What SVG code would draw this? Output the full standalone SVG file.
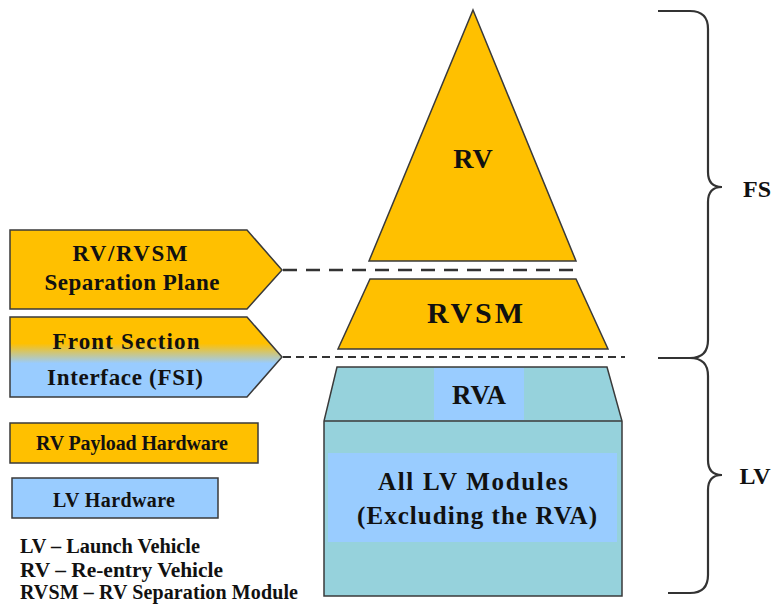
<svg xmlns="http://www.w3.org/2000/svg" width="776" height="607" viewBox="0 0 776 607">
<style>
.o{fill:#FFC000;stroke:#3a3a3a;stroke-width:1.5}
.b{fill:#99CCFF;stroke:#3a3a3a;stroke-width:1.5}
.t{font-family:"Liberation Serif","Times New Roman",serif;font-weight:bold;fill:#111;text-anchor:middle}
.l{font-family:"Liberation Serif","Times New Roman",serif;font-weight:bold;fill:#111;font-size:20px}
.br{fill:none;stroke:#333;stroke-width:2.2}
</style>
<defs>
<linearGradient id="fsi" x1="0" y1="0" x2="0" y2="1">
<stop offset="0.33" stop-color="#FFC000"/>
<stop offset="0.58" stop-color="#99CCFF"/>
</linearGradient>
</defs>
<rect width="776" height="607" fill="#fff"/>
<g id="connectors">
<line x1="283" y1="270" x2="576" y2="270" stroke="#333" stroke-width="2.5" stroke-dasharray="14 9"/>
<line x1="283" y1="357" x2="625" y2="357" stroke="#333" stroke-width="2" stroke-dasharray="8 5"/>
</g>
<g id="rv">
<polygon class="o" points="473,10 576,261 369,261"/>
<text class="t" x="473" y="168" font-size="28">RV</text>
</g>
<g id="rvsm">
<polygon class="o" points="370,279 576,279 608,349 338,349"/>
<text class="t" x="475" y="323" font-size="30" textLength="96" lengthAdjust="spacing">RVSM</text>
</g>
<g id="lv">
<polygon points="337,367 607,367 622,421 622,596 324,596 324,421" fill="#96D2DC" stroke="#3a3a3a" stroke-width="1.5"/>
<rect x="434" y="368" width="90" height="52" fill="#99CCFF"/>
<rect x="328" y="453" width="289" height="89" fill="#99CCFF"/>
<line x1="324" y1="421" x2="622" y2="421" stroke="#3a3a3a" stroke-width="1.5"/>
<text class="t" x="479" y="404" font-size="27">RVA</text>
<text class="t" x="473" y="490" font-size="25" textLength="190" lengthAdjust="spacing">All LV Modules</text>
<text class="t" x="477" y="524" font-size="25" textLength="240" lengthAdjust="spacing">(Excluding the RVA)</text>
</g>
<g id="sep-plane">
<polygon class="o" points="10,230 247,230 282,270 247,309 10,309"/>
<text class="t" x="130" y="261" font-size="23" textLength="115" lengthAdjust="spacing">RV/RVSM</text>
<text class="t" x="132" y="290" font-size="23" textLength="175" lengthAdjust="spacing">Separation Plane</text>
</g>
<g id="fsi-box">
<polygon points="10,317 247,317 282,357 247,397 10,397" fill="url(#fsi)" stroke="#3a3a3a" stroke-width="1.5"/>
<text class="t" x="126" y="349" font-size="23" textLength="147" lengthAdjust="spacing">Front Section</text>
<text class="t" x="125" y="385" font-size="23" textLength="156" lengthAdjust="spacing">Interface (FSI)</text>
</g>
<g id="legend-rv">
<rect class="o" x="10" y="423" width="248" height="40"/>
<text class="t" x="132" y="450" font-size="20" textLength="192" lengthAdjust="spacing">RV Payload Hardware</text>
</g>
<g id="legend-lv">
<rect class="b" x="12" y="478" width="206" height="40"/>
<text class="t" x="114" y="507" font-size="20" textLength="122" lengthAdjust="spacing">LV  Hardware</text>
</g>
<g id="abbrev">
<text class="l" x="20" y="553" textLength="180" lengthAdjust="spacingAndGlyphs">LV – Launch Vehicle</text>
<text class="l" x="20" y="577" textLength="203" lengthAdjust="spacingAndGlyphs">RV – Re-entry Vehicle</text>
<text class="l" x="20" y="599" textLength="278" lengthAdjust="spacing">RVSM – RV Separation Module</text>
</g>
<g id="brace-fs">
<path class="br" d="M658,11 H690 Q708,11 708,29 V172 Q708,187 722,187 Q708,187 708,202 V340 Q708,358 690,358 H658"/>
<text class="t" x="757" y="197" font-size="24">FS</text>
</g>
<g id="brace-lv">
<path class="br" d="M690,358 Q708,358 708,376 V460 Q708,475 722,475 Q708,475 708,490 V575 Q708,593 690,593 H668"/>
<text class="t" x="755" y="484" font-size="24">LV</text>
</g>
</svg>
